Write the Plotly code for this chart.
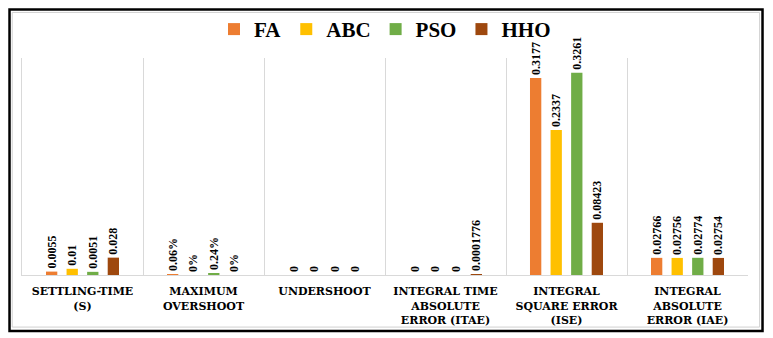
import plotly.graph_objects as go

# metrics compared for each optimiser
categories = ["SETTLING-TIME<br>(S)", "MAXIMUM<br>OVERSHOOT", "UNDERSHOOT",
              "INTEGRAL TIME<br>ABSOLUTE<br>ERROR (ITAE)", "INTEGRAL<br>SQUARE ERROR<br>(ISE)",
              "INTEGRAL<br>ABSOLUTE<br>ERROR (IAE)"]

fa = [0.0055, 0.0006, 0, 0, 0.3177, 0.02766]
abc = [0.01, 0, 0, 0, 0.2337, 0.02756]
pso = [0.0051, 0.0024, 0, 0, 0.3261, 0.02774]
hho = [0.028, 0, 0, 0.0001776, 0.08423, 0.02754]

fa_lbl = ["0.0055", "0.06%", "0", "0", "0.3177", "0.02766"]
abc_lbl = ["0.01", "0%", "0", "0", "0.2337", "0.02756"]
pso_lbl = ["0.0051", "0.24%", "0", "0", "0.3261", "0.02774"]
hho_lbl = ["0.028", "0%", "0", "0.0001776", "0.08423", "0.02754"]

series = [("FA", fa, fa_lbl, "#ED7D31"), ("ABC", abc, abc_lbl, "#FFC000"),
          ("PSO", pso, pso_lbl, "#70AD47"), ("HHO", hho, hho_lbl, "#9E480E")]

serif = "Liberation Serif, Times New Roman, serif"

fig = go.Figure()
for name, vals, lbl, col in series:
    fig.add_trace(go.Bar(x=categories, y=vals, name="<b>" + name + "</b>",
                         marker=dict(color=col, line_width=0),
                         text=["<b>" + t + "</b>" for t in lbl], textposition="outside",
                         textangle=-90, constraintext="none", cliponaxis=False,
                         textfont=dict(family=serif, size=12, color="black")))

# page body adds 8px margin, so the figure is 8px smaller and shifted
fig.update_layout(
    width=765, height=330, margin=dict(l=14, r=25, t=50, b=63),
    plot_bgcolor="white", paper_bgcolor="white",
    barmode="group", bargap=0.32, bargroupgap=0.45,
    font=dict(family=serif, color="black"),
    legend=dict(orientation="h", x=0.5, xanchor="center", yref="container", y=0.935,
                yanchor="middle", bgcolor="rgba(0,0,0,0)",
                font=dict(family=serif, size=21, color="black"), itemwidth=30),
)
fig.update_xaxes(tickson="boundaries", showgrid=True, gridcolor="#d9d9d9", gridwidth=1,
                 showline=True, linecolor="#d9d9d9", ticks="", ticklabelstandoff=6,
                 tickangle=0, automargin=False,
                 tickfont=dict(family="DejaVu Serif", size=11, color="black", weight="bold"))
fig.update_yaxes(range=[0, 0.35], showgrid=False, showticklabels=False, zeroline=False,
                 showline=True, linecolor="#d9d9d9", automargin=False)

# outer frame around the chart
fig.add_shape(type="rect", xref="paper", yref="paper", x0=-0.0172, x1=1.02, y0=-0.258, y1=1.2235,
              line=dict(color="black", width=2.5))
fig.add_shape(type="rect", xref="paper", yref="paper", x0=-0.0135, x1=1.016, y0=-0.24, y1=1.21,
              line=dict(color="#d0d0d0", width=1))

fig.write_html("out.html")
